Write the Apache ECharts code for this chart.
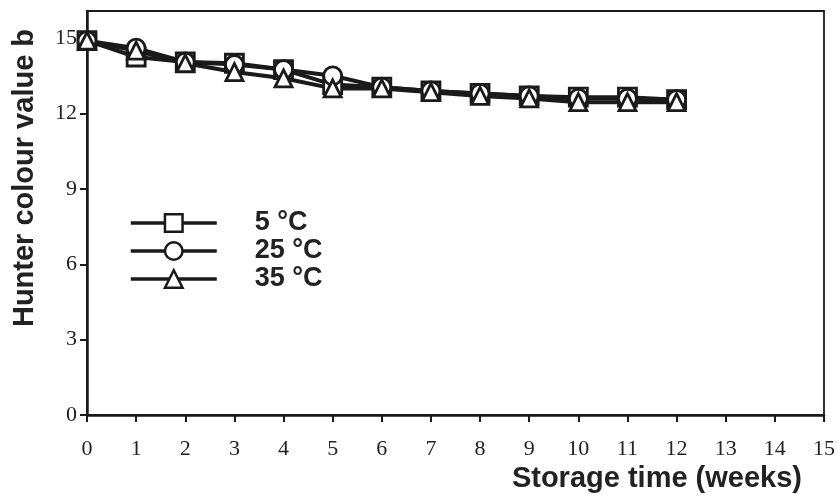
<!DOCTYPE html>
<html>
<head>
<meta charset="utf-8">
<script src="https://cdn.jsdelivr.net/npm/echarts@6/dist/echarts.min.js"></script>
<style>html,body{margin:0;padding:0;background:#fff;}#c{width:838px;height:500px;}</style>
</head>
<body>
<div id="c"></div>
<script>
var weeks = [0,1,2,3,4,5,6,7,8,9,10,11,12];
var temp5  = [14.9,14.25,14.05,14.0,13.75,13.15,13.05,12.9,12.8,12.7,12.65,12.65,12.55];
var temp25 = [14.9,14.6,14.05,13.95,13.75,13.5,13.05,12.9,12.8,12.7,12.6,12.6,12.55];
var temp35 = [14.9,14.5,14.0,13.65,13.4,13.0,13.0,12.85,12.7,12.6,12.45,12.45,12.45];
var yTicks = [0,3,6,9,12,15];
var seriesNames = ['5 °C','25 °C','35 °C'];
var xTitle = 'Storage time (weeks)';
var yTitle = 'Hunter colour value b';

function pairs(vals){ return weeks.map(function(w,i){ return [w, vals[i]]; }); }

var ink = '#1a1a1a';
var serif = '"Liberation Serif", "DejaVu Serif", serif';
var sans = '"Liberation Sans", Arial, sans-serif';

function mk(name, vals, sym, size){
  return {
    name: name, type: 'line', data: pairs(vals),
    symbol: sym, symbolSize: size,
    lineStyle: {color: ink, width: 4},
    itemStyle: {color: '#fff', borderColor: ink, borderWidth: 2.8},
    emphasis: {disabled: true}, animation: false
  };
}

var chart = echarts.init(document.getElementById('c'), null, {renderer: 'canvas'});
chart.setOption({
  backgroundColor: '#fff',
  animation: false,
  title: {
    text: xTitle, right: 36, top: 464, padding: 0,
    textStyle: {fontFamily: sans, fontWeight: 'bold', fontSize: 29, color: '#222'}
  },
  graphic: [{
    type: 'text', x: 10, y: 178, rotation: Math.PI / 2,
    style: {text: yTitle, font: 'bold 29px "Liberation Sans", Arial, sans-serif', fill: '#222', align: 'center', verticalAlign: 'top'}
  }],
  grid: {left: 87, right: 14, top: 11, bottom: 85, show: true, borderColor: ink, borderWidth: 1.8, backgroundColor: 'transparent'},
  legend: {
    orient: 'vertical', left: 124, top: 204,
    itemWidth: 86, itemHeight: 22, itemGap: 0,
    data: seriesNames,
    lineStyle: {width: 3.5, color: ink},
    itemStyle: {borderWidth: 2.5},
    textStyle: {fontFamily: sans, fontWeight: 'bold', fontSize: 27, lineHeight: 28, color: '#222', padding: [0,0,0,33]}
  },
  xAxis: {
    type: 'value', min: 0, max: 15, interval: 1,
    axisLine: {show: true, onZero: false, lineStyle: {color: ink, width: 2.5}},
    axisTick: {show: true, inside: false, length: 7, lineStyle: {color: ink, width: 2}},
    axisLabel: {fontFamily: serif, fontSize: 22, color: '#222', margin: 23},
    splitLine: {show: false}
  },
  yAxis: {
    type: 'value', min: 0, max: 16.08,
    axisLine: {show: true, lineStyle: {color: ink, width: 2.5}},
    axisTick: {show: true, length: 7, customValues: yTicks, lineStyle: {color: ink, width: 2}},
    axisLabel: {fontFamily: serif, fontSize: 22, color: '#222', margin: 10, customValues: yTicks},
    splitLine: {show: false}
  },
  series: [
    mk(seriesNames[0], temp5, 'rect', 18),
    mk(seriesNames[1], temp25, 'circle', 18),
    mk(seriesNames[2], temp35, 'triangle', 17)
  ]
});
</script>
</body>
</html>
